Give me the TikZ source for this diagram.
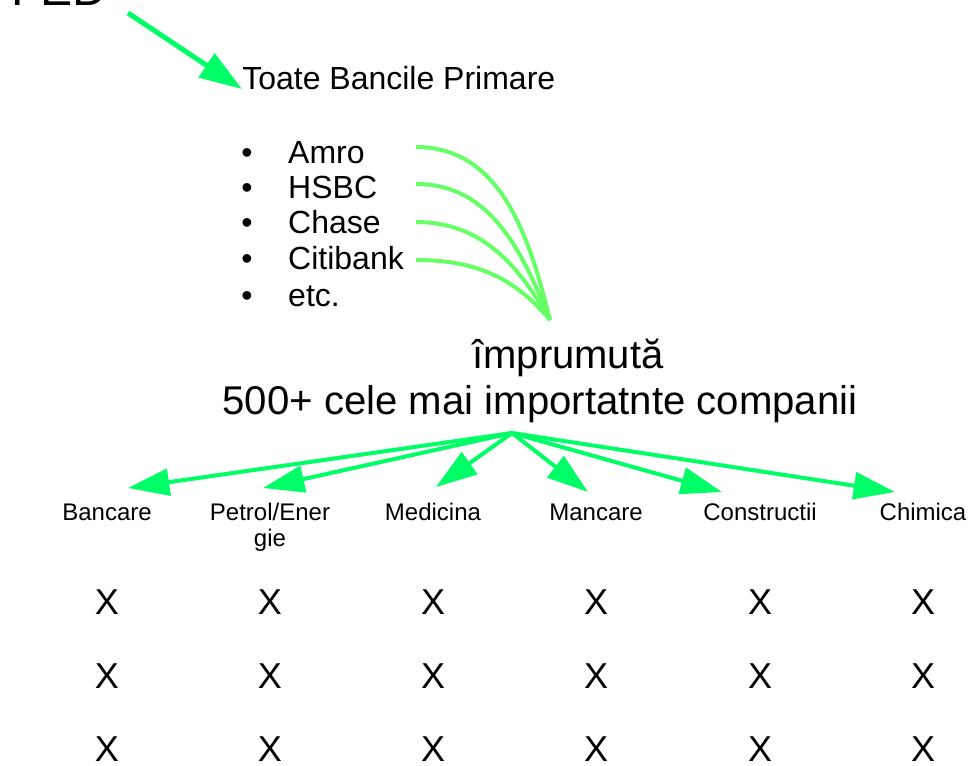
\documentclass[tikz,border=0pt]{standalone}
\usepackage{fontspec}
\setmainfont{Liberation Sans}
\usetikzlibrary{arrows.meta}
\definecolor{arrowgreen}{RGB}{0,255,102}
\definecolor{curvegreen}{RGB}{102,255,102}

\begin{document}
\begin{tikzpicture}[x=0.75pt,y=0.75pt,yscale=-1,xscale=1,
  txt/.style={inner sep=0pt,anchor=base},
  pointer/.style={draw=arrowgreen,line width=3pt,-{Triangle[length=31pt,width=20pt]}},
  feed/.style={draw=curvegreen,line width=3pt},
  bankitem/.style={inner sep=0pt,anchor=base west,font=\fontsize{24}{28}\selectfont},
  sector/.style={txt,align=center,font=\fontsize{18}{19.5}\selectfont},
  cross/.style={txt,font=\fontsize{27}{30}\selectfont}]
\useasboundingbox (0,0) rectangle (969,765);

% Text Node
\node [txt,anchor=base west,font=\fontsize{36}{40}\selectfont] (fed) at (11,5) {FED};
% Text Node
\node [bankitem] (primare) at (242,89) {Toate Bancile Primare};
% Text Node
\node [bankitem] (amro) at (241,163) {\makebox[35.25pt][l]{•}Amro};
% Text Node
\node [bankitem] (hsbc) at (241,198) {\makebox[35.25pt][l]{•}HSBC};
% Text Node
\node [bankitem] (chase) at (241,233) {\makebox[35.25pt][l]{•}Chase};
% Text Node
\node [bankitem] (citibank) at (241,269) {\makebox[35.25pt][l]{•}Citibank};
% Text Node
\node [bankitem] (etc) at (241,306) {\makebox[35.25pt][l]{•}etc.};
% Text Node
\node [txt,font=\fontsize{30}{34}\selectfont] (imprumuta) at (568,368) {împrumută};
% Text Node
\node [txt,font=\fontsize{30.1}{34}\selectfont] (companii) at (540,414) {500+ cele mai importatnte companii};

% Text Node
\node [sector] (bancare) at (107,520) {Bancare};
% Text Node
\node [sector] (petrol) at (270,546) {Petrol/Ener\\gie};
% Text Node
\node [sector] (medicina) at (433,520) {Medicina};
% Text Node
\node [sector] (mancare) at (596,520) {Mancare};
% Text Node
\node [sector] (constructii) at (760,520) {Constructii};
% Text Node
\node [sector] (chimica) at (923,520) {Chimica};

% Text Node
\node [cross] (xa1) at (107,614) {X};
\node [cross] (xa2) at (107,688) {X};
\node [cross] (xa3) at (107,761) {X};
% Text Node
\node [cross] (xb1) at (270,614) {X};
\node [cross] (xb2) at (270,688) {X};
\node [cross] (xb3) at (270,761) {X};
% Text Node
\node [cross] (xc1) at (433,614) {X};
\node [cross] (xc2) at (433,688) {X};
\node [cross] (xc3) at (433,761) {X};
% Text Node
\node [cross] (xd1) at (596,614) {X};
\node [cross] (xd2) at (596,688) {X};
\node [cross] (xd3) at (596,761) {X};
% Text Node
\node [cross] (xe1) at (760,614) {X};
\node [cross] (xe2) at (760,688) {X};
\node [cross] (xe3) at (760,761) {X};
% Text Node
\node [cross] (xf1) at (923,614) {X};
\node [cross] (xf2) at (923,688) {X};
\node [cross] (xf3) at (923,761) {X};

% Connector ends
\coordinate (fedOut) at (128,13);
\coordinate (amroOut) at (416,147);
\coordinate (hsbcOut) at (416,184);
\coordinate (chaseOut) at (416,222);
\coordinate (citiOut) at (416,260);
\coordinate (sink) at (550,320);
\coordinate (hub) at (512,433);
\coordinate (toBancare) at (128,488);
\coordinate (toPetrol) at (263,488);
\coordinate (toMedicina) at (436,487);
\coordinate (toMancare) at (588,492);
\coordinate (toConstructii) at (722,492);
\coordinate (toChimica) at (895,492);

%Straight Lines
\draw [pointer,line width=3.75pt,-{Triangle[length=32pt,width=21pt]}] (fedOut) -- (primare.base west);
%Curve Lines
\draw [feed] (amroOut) to[out=0,in=-104] (sink);
%Curve Lines
\draw [feed] (hsbcOut) to[out=0,in=-112] (sink);
%Curve Lines
\draw [feed] (chaseOut) to[out=0,in=-120] (sink);
%Curve Lines
\draw [feed] (citiOut) to[out=0,in=-130] (sink);
%Straight Lines
\draw [pointer] (hub) -- (toBancare);
%Straight Lines
\draw [pointer] (hub) -- (toPetrol);
%Straight Lines
\draw [pointer] (hub) -- (toMedicina);
%Straight Lines
\draw [pointer] (hub) -- (toMancare);
%Straight Lines
\draw [pointer] (hub) -- (toConstructii);
%Straight Lines
\draw [pointer] (hub) -- (toChimica);

\end{tikzpicture}
\end{document}
